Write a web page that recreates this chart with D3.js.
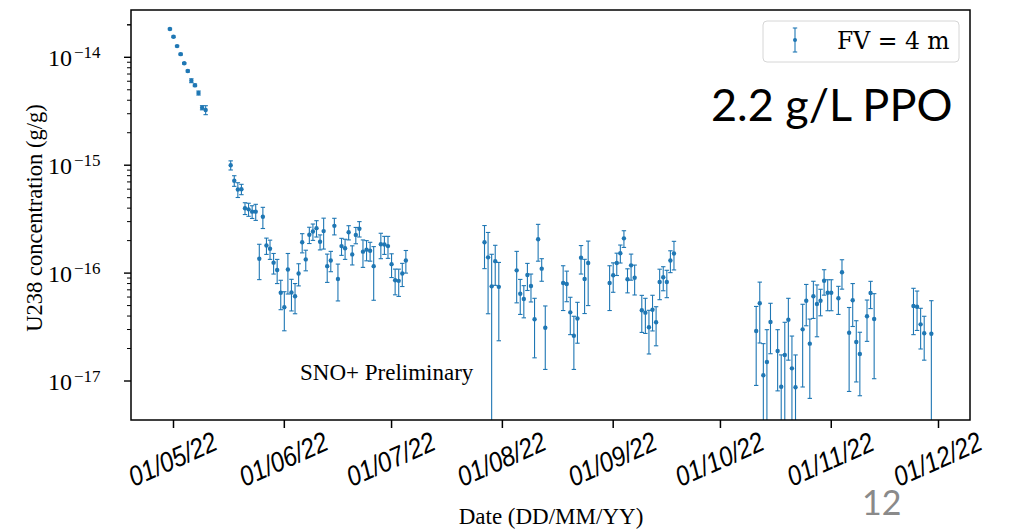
<!DOCTYPE html>
<html>
<head>
<meta charset="utf-8">
<script src="https://d3js.org/d3.v7.min.js"></script>
<style>
body { margin: 0; background: #fff; }
svg { display: block; }
</style>
</head>
<body>
<script>

// U238 concentration (g/g) per sample date, symmetric 1-sigma errors
var sampleDates = [
  "2022-04-30","2022-05-01","2022-05-02","2022-05-03","2022-05-04","2022-05-05","2022-05-06","2022-05-07","2022-05-08","2022-05-09","2022-05-10",
  "2022-05-17","2022-05-18","2022-05-19","2022-05-20","2022-05-21","2022-05-22","2022-05-23","2022-05-24","2022-05-25","2022-05-26",
  "2022-05-27","2022-05-28","2022-05-29","2022-05-30","2022-05-31","2022-06-01","2022-06-02","2022-06-03","2022-06-04","2022-06-05",
  "2022-06-06","2022-06-07","2022-06-08","2022-06-09","2022-06-10","2022-06-11","2022-06-12","2022-06-13","2022-06-14","2022-06-15",
  "2022-06-16","2022-06-17","2022-06-18","2022-06-19","2022-06-20","2022-06-21","2022-06-22","2022-06-23","2022-06-24","2022-06-25",
  "2022-06-26","2022-06-28","2022-06-29","2022-06-30","2022-07-01","2022-07-02","2022-07-03","2022-07-04","2022-07-05",
  "2022-07-27","2022-07-28","2022-07-29","2022-07-30","2022-07-31",
  "2022-08-05","2022-08-06","2022-08-07","2022-08-08","2022-08-09","2022-08-10","2022-08-11","2022-08-12","2022-08-13",
  "2022-08-18","2022-08-19","2022-08-20","2022-08-21","2022-08-22","2022-08-23","2022-08-24","2022-08-25",
  "2022-08-31","2022-09-01","2022-09-02","2022-09-03","2022-09-04","2022-09-05","2022-09-06","2022-09-07",
  "2022-09-09","2022-09-10","2022-09-11","2022-09-12","2022-09-13","2022-09-14","2022-09-15","2022-09-16","2022-09-17","2022-09-18",
  "2022-10-11","2022-10-12","2022-10-13","2022-10-14","2022-10-15","2022-10-17","2022-10-18","2022-10-19","2022-10-20","2022-10-21",
  "2022-10-22","2022-10-24","2022-10-25","2022-10-26","2022-10-27","2022-10-28","2022-10-29","2022-10-30","2022-10-31","2022-11-01",
  "2022-11-03","2022-11-04","2022-11-06","2022-11-07","2022-11-08","2022-11-09","2022-11-11","2022-11-12","2022-11-13",
  "2022-11-24","2022-11-25","2022-11-26","2022-11-27","2022-11-29"
];

var u238Values = [
  1.83e-14,1.55e-14,1.27e-14,1.07e-14,8.80e-15,7.46e-15,6.07e-15,5.50e-15,4.67e-15,3.41e-15,3.25e-15,
  1.00e-15,7.18e-16,5.95e-16,5.99e-16,3.99e-16,3.90e-16,3.71e-16,3.71e-16,1.36e-16,3.33e-16,
  1.80e-16,1.68e-16,1.25e-16,1.07e-16,6.58e-17,4.82e-17,1.08e-16,6.61e-17,6.10e-17,9.91e-17,
  1.93e-16,1.34e-16,2.27e-16,2.43e-16,2.61e-16,1.95e-16,2.45e-16,1.16e-16,1.31e-16,2.74e-16,
  8.82e-17,1.78e-16,1.70e-16,2.39e-16,1.49e-16,2.26e-16,2.58e-16,1.58e-16,1.65e-16,1.61e-16,
  1.16e-16,1.85e-16,1.84e-16,1.78e-16,1.21e-16,8.59e-17,8.48e-17,9.91e-17,1.31e-16,
  1.93e-16,1.40e-16,7.54e-17,1.29e-16,7.46e-17,
  1.06e-16,6.44e-17,5.75e-17,9.60e-17,7.60e-17,3.74e-17,2.06e-16,1.10e-16,3.12e-17,
  8.10e-17,7.93e-17,4.33e-17,2.63e-17,3.80e-17,1.39e-16,8.82e-17,1.24e-16,
  8.10e-17,9.54e-17,1.24e-16,1.53e-16,2.10e-16,8.76e-17,1.18e-16,9.07e-17,
  4.52e-17,4.30e-17,3.15e-17,4.57e-17,3.50e-17,8.27e-17,9.16e-17,8.27e-17,1.31e-16,1.52e-16,
  2.91e-17,5.25e-17,1.13e-17,1.50e-17,3.52e-17,1.90e-17,8.86e-18,1.74e-17,3.70e-17,1.31e-17,
  8.74e-18,3.01e-17,5.55e-17,2.22e-17,6.10e-17,5.17e-17,5.55e-17,8.50e-17,6.58e-17,6.58e-17,
  5.84e-17,1.02e-16,2.80e-17,5.60e-17,2.30e-17,1.78e-17,3.98e-17,6.54e-17,3.75e-17,
  4.96e-17,4.88e-17,3.35e-17,2.77e-17,2.74e-17
];

var u238Errors = [
  0.03e-14,0.025e-14,0.02e-14,0.02e-14,0.15e-15,0.15e-15,0.25e-15,0.15e-15,0.2e-15,0.15e-15,0.31e-15,
  0.97e-16,0.81e-16,0.93e-16,0.66e-16,0.50e-16,0.54e-16,0.50e-16,0.63e-16,0.49e-16,0.74e-16,
  0.31e-16,0.34e-16,0.27e-16,0.27e-16,2.0e-17,1.9e-17,0.44e-16,2.15e-17,1.9e-17,2.3e-17,
  0.39e-16,0.29e-16,0.39e-16,0.42e-16,0.45e-16,0.31e-16,0.78e-16,0.34e-16,0.28e-16,0.48e-16,
  3.3e-17,0.32e-16,0.36e-16,0.36e-16,0.30e-16,0.39e-16,0.42e-16,0.45e-16,0.35e-16,0.32e-16,
  0.60e-16,0.49e-16,0.35e-16,0.41e-16,0.30e-16,2.3e-17,2.4e-17,2.4e-17,0.31e-16,
  0.83e-16,0.98e-16,7.4e-17,0.52e-16,5.1e-17,
  0.53e-16,2.3e-17,1.9e-17,2.7e-17,2.2e-17,2.1e-17,0.77e-16,0.26e-16,1.84e-17,
  3.6e-17,2.5e-17,1.64e-17,1.35e-17,1.56e-17,0.41e-16,4.6e-17,0.74e-16,
  3.6e-17,2.9e-17,0.29e-16,0.29e-16,0.37e-16,2.2e-17,0.32e-16,2.8e-17,
  1.7e-17,1.54e-17,1.37e-17,1.66e-17,1.38e-17,2.6e-17,2.3e-17,2.35e-17,0.30e-16,0.45e-16,
  2.0e-17,3.0e-17,1.09e-17,1.49e-17,1.73e-17,1.09e-17,0.86e-17,1.76e-17,2.14e-17,1.30e-17,
  0.87e-17,2.13e-17,2.3e-17,1.53e-17,2.3e-17,2.6e-17,1.53e-17,2.25e-17,2.1e-17,2.1e-17,
  1.7e-17,0.31e-16,2.0e-17,2.4e-17,1.32e-17,1.05e-17,1.65e-17,1.85e-17,2.7e-17,
  2.27e-17,1.94e-17,1.37e-17,1.21e-17,2.81e-17
];

var xTickDates = ["2022-05-01","2022-06-01","2022-07-01","2022-08-01","2022-09-01","2022-10-01","2022-11-01","2022-12-01"];
var yTickExponents = [-17, -16, -15, -14];
var legendLabel = "FV = 4 m";

var width = 1015, height = 529;
var plot = {left: 131, right: 970, top: 10, bottom: 420};
var blue = "#1f77b4";

var parseDate = d3.utcParse("%Y-%m-%d");
var fmtTick = d3.utcFormat("%d/%m/%y");

var data = sampleDates.map(function(d, i) {
  return {date: parseDate(d), value: u238Values[i], err: u238Errors[i]};
});

var svg = d3.select("body").append("svg")
    .attr("width", width)
    .attr("height", height);

svg.append("rect").attr("width", width).attr("height", height).attr("fill", "#fff");

var xScale = d3.scaleUtc()
    .domain([parseDate(xTickDates[0]), parseDate(xTickDates[xTickDates.length - 1])])
    .range([173.5, 938.5]);

var yScale = d3.scaleLog()
    .domain([Math.pow(10, -17.3614), Math.pow(10, -13.5616)])
    .range([plot.bottom, plot.top]);

svg.append("clipPath").attr("id", "plotclip")
  .append("rect")
    .attr("x", plot.left).attr("y", plot.top)
    .attr("width", plot.right - plot.left).attr("height", plot.bottom - plot.top);

var marks = svg.append("g").attr("clip-path", "url(#plotclip)");

var capW = 2.2;
var bars = marks.selectAll(".bar")
    .data(data)
  .enter().append("g")
    .attr("class", "bar")
    .attr("stroke", blue)
    .attr("stroke-width", 1.1);

function yLow(d) {
  var lo = d.value - d.err;
  return lo > 0 ? yScale(lo) : plot.bottom + 20;
}
function yHigh(d) { return yScale(d.value + d.err); }

bars.append("line")
    .attr("x1", function(d) { return xScale(d.date); })
    .attr("x2", function(d) { return xScale(d.date); })
    .attr("y1", yHigh)
    .attr("y2", yLow);

bars.append("line")
    .attr("x1", function(d) { return xScale(d.date) - capW; })
    .attr("x2", function(d) { return xScale(d.date) + capW; })
    .attr("y1", yHigh)
    .attr("y2", yHigh);

bars.append("line")
    .attr("x1", function(d) { return xScale(d.date) - capW; })
    .attr("x2", function(d) { return xScale(d.date) + capW; })
    .attr("y1", yLow)
    .attr("y2", yLow);

marks.selectAll(".dot")
    .data(data)
  .enter().append("circle")
    .attr("class", "dot")
    .attr("cx", function(d) { return xScale(d.date); })
    .attr("cy", function(d) { return yScale(d.value); })
    .attr("r", 2.2)
    .attr("fill", blue);

// y axis ticks (log, major + minor)
var yAxisG = svg.append("g").attr("stroke", "#000");
yTickExponents.forEach(function(e) {
  for (var m = 1; m <= 9; m++) {
    var yy = yScale(m * Math.pow(10, e));
    if (yy < plot.top || yy > plot.bottom) continue;
    yAxisG.append("line")
        .attr("x1", plot.left - (m === 1 ? 7 : 4)).attr("x2", plot.left)
        .attr("y1", yy).attr("y2", yy)
        .attr("stroke-width", m === 1 ? 1.4 : 1);
  }
});
[2, 3].forEach(function(m) {
  var yy = yScale(m * Math.pow(10, -14));
  if (yy >= plot.top) {
    yAxisG.append("line")
        .attr("x1", plot.left - 4).attr("x2", plot.left)
        .attr("y1", yy).attr("y2", yy).attr("stroke-width", 1);
  }
});

var yLabels = svg.append("g")
    .style("font-family", "'Liberation Serif', serif")
    .attr("fill", "#000");
yTickExponents.forEach(function(e) {
  var t = yLabels.append("text")
      .attr("x", 48)
      .attr("y", yScale(Math.pow(10, e)) + 8.5)
      .style("font-size", "24px");
  t.append("tspan").text("10");
  t.append("tspan")
      .attr("dy", -7.5)
      .attr("dx", 2)
      .style("font-size", "17px")
      .text("\u2212" + Math.abs(e));
});

// x axis ticks + rotated labels (condensed look of the original)
var xAxisG = svg.append("g");
xTickDates.forEach(function(s) {
  var xx = xScale(parseDate(s));
  xAxisG.append("line")
      .attr("x1", xx).attr("x2", xx)
      .attr("y1", plot.bottom).attr("y2", plot.bottom + 8)
      .attr("stroke", "#000").attr("stroke-width", 1.5);
  xAxisG.append("text")
      .attr("transform", "translate(" + (xx - 1) + ",459) rotate(-24) scale(0.86,1)")
      .attr("text-anchor", "middle")
      .attr("dy", "0.35em")
      .style("font-family", "'Liberation Sans', sans-serif")
      .style("font-style", "italic")
      .style("font-size", "28px")
      .text(fmtTick(parseDate(s)));
});

// frame
svg.append("rect")
    .attr("x", plot.left).attr("y", plot.top)
    .attr("width", plot.right - plot.left).attr("height", plot.bottom - plot.top)
    .attr("fill", "none").attr("stroke", "#000").attr("stroke-width", 1.5);

// axis titles
svg.append("text")
    .attr("transform", "translate(42,218) rotate(-90)")
    .attr("text-anchor", "middle")
    .style("font-family", "'Liberation Serif', serif")
    .style("font-size", "22.5px")
    .text("U238 concentration (g/g)");

svg.append("text")
    .attr("x", 551).attr("y", 524)
    .attr("text-anchor", "middle")
    .style("font-family", "'Liberation Serif', serif")
    .style("font-size", "23px")
    .text("Date (DD/MM/YY)");

svg.append("text")
    .attr("x", 300).attr("y", 380)
    .style("font-family", "'Liberation Serif', serif")
    .style("font-size", "23px")
    .text("SNO+ Preliminary");

// legend
var leg = svg.append("g");
leg.append("rect")
    .attr("x", 763).attr("y", 21).attr("width", 196).attr("height", 41)
    .attr("rx", 4).attr("fill", "#fff").attr("stroke", "#d6d6d6").attr("stroke-width", 1);
var lg = leg.append("g").attr("stroke", blue).attr("stroke-width", 1.1);
lg.append("line").attr("x1", 795).attr("x2", 795).attr("y1", 28).attr("y2", 52);
lg.append("line").attr("x1", 795 - capW).attr("x2", 795 + capW).attr("y1", 28).attr("y2", 28);
lg.append("line").attr("x1", 795 - capW).attr("x2", 795 + capW).attr("y1", 52).attr("y2", 52);
leg.append("circle").attr("cx", 795).attr("cy", 40).attr("r", 2).attr("fill", blue);
leg.append("text")
    .attr("x", 837).attr("y", 49)
    .style("font-family", "'DejaVu Serif', serif")
    .style("font-size", "23.5px")
    .text(legendLabel);

svg.append("text")
    .attr("x", 711).attr("y", 121)
    .style("font-family", "Lato, sans-serif")
    .style("font-size", "45px")
    .text("2.2 g/L PPO");

svg.append("text")
    .attr("x", 862).attr("y", 515)
    .style("font-family", "Lato, sans-serif")
    .style("font-size", "34px")
    .attr("fill", "#8a8a8a")
    .text("12");

</script>
</body>
</html>
